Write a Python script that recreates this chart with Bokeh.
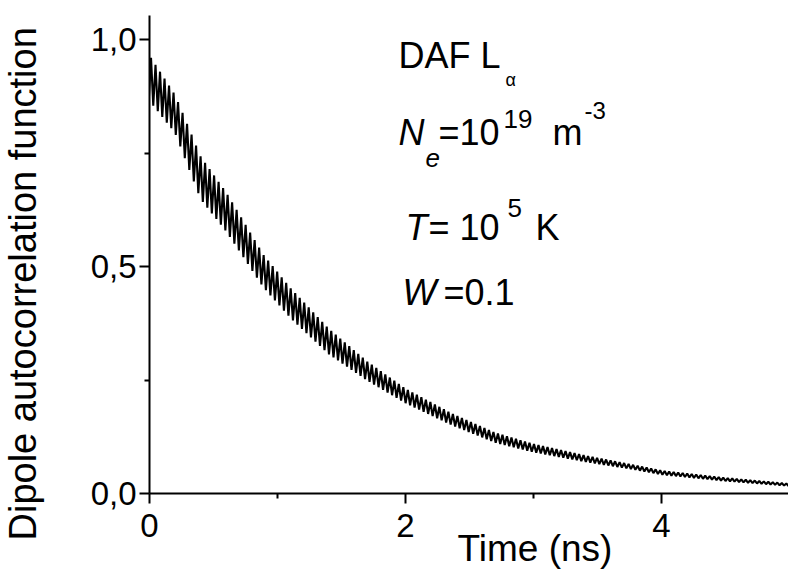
import numpy as np
from bokeh.plotting import figure
from bokeh.models import Range1d, FixedTicker, Label, Title
from bokeh.embed import file_html
from bokeh.resources import INLINE

# Envelope of the damped oscillating curve
t_env = [0.0, 0.2, 0.4, 0.6, 0.89, 1.1, 1.4, 1.7, 2.0, 2.35, 2.7, 3.0, 3.4, 3.8, 4.0, 4.5, 5.0]
mean_env = [0.915, 0.836, 0.695, 0.62, 0.49, 0.42, 0.335, 0.27, 0.215, 0.165, 0.123, 0.10,
            0.077, 0.057, 0.046, 0.031, 0.019]
half_amp = [0.05, 0.042, 0.047, 0.043, 0.036, 0.033, 0.028, 0.021, 0.016, 0.013, 0.011, 0.009,
            0.007, 0.005, 0.0045, 0.0035, 0.0025]
period = 0.0352      # ns, oscillation period
first_peak = 0.0118  # ns

x_ticks = [0, 2, 4]
x_minor = [1, 3]
y_ticks = [0.0, 0.5, 1.0]
y_minor = [0.25, 0.75]
y_tick_labels = ["0,0", "0,5", "1,0"]

# peaks and troughs of the oscillation
tt = np.arange(first_peak - period / 2, 5.0 + period, period / 2)
m = np.interp(tt, t_env, mean_env)
a = np.interp(tt, t_env, half_amp)
sign = np.where(np.arange(len(tt)) % 2 == 0, -1.0, 1.0)
yy = m + sign * a

FONT = "Liberation Sans"

p = figure(width=788, height=572, output_backend="svg", toolbar_location=None,
           x_range=Range1d(0, 4.992), y_range=Range1d(0, 1.053),
           min_border_left=149, min_border_right=0, min_border_top=15, min_border_bottom=79)
p.outline_line_color = None
p.grid.visible = False
p.background_fill_color = "white"
p.border_fill_color = "white"

p.line(tt, yy, line_color="black", line_width=2.1)

p.xaxis.ticker = FixedTicker(ticks=x_ticks, minor_ticks=x_minor)
p.yaxis.ticker = FixedTicker(ticks=y_ticks, minor_ticks=y_minor)
p.yaxis.major_label_overrides = {v: s for v, s in zip(y_ticks, y_tick_labels)}
for ax in (p.xaxis, p.yaxis):
    ax.axis_line_width = 2
    ax.axis_line_color = "black"
    ax.major_tick_line_width = 2
    ax.minor_tick_line_width = 2
    ax.major_tick_line_color = "black"
    ax.minor_tick_line_color = "black"
    ax.major_tick_in = 0
    ax.major_tick_out = 10
    ax.minor_tick_in = 0
    ax.minor_tick_out = 5
    ax.major_label_text_font = FONT
    ax.major_label_text_font_size = "33px"
    ax.major_label_text_color = "black"
p.xaxis.major_label_standoff = 10
p.yaxis.major_label_standoff = 3
# blank spacer label so that the y title sits further out
p.yaxis.axis_label = " "
p.yaxis.axis_label_text_font_size = "10px"
p.yaxis.axis_label_standoff = 28

# axis titles
p.add_layout(Title(text="Time (ns)", text_font=FONT, text_font_size="37px",
                   text_font_style="normal", text_color="black", align="left",
                   offset=308, vertical_align="top", standoff=-24), "below")
p.add_layout(Title(text="Dipole autocorrelation function", text_font=FONT,
                   text_font_size="38px", text_font_style="normal", text_color="black",
                   align="left", offset=-47, vertical_align="top", standoff=0), "left")

def lab(x, y, text, size="36px", style="normal"):
    p.add_layout(Label(x=x, y=y, text=text, text_font=FONT, text_font_size=size,
                       text_font_style=style, text_baseline="alphabetic", text_color="black"))

lab(1.945, 0.965, "DAF L")
lab(2.781, 0.910, "α", "18px")
lab(1.945, 0.795, "N", style="italic")
lab(2.156, 0.740, "e", "26px", "italic")
lab(2.258, 0.795, "=10")
lab(2.766, 0.826, "19", "26px")
lab(3.148, 0.795, "m")
lab(3.398, 0.844, "-3", "24px")
lab(2.0, 0.586, "T", style="italic")
lab(2.18, 0.586, "= 10")
lab(2.797, 0.630, "5", "26px")
lab(3.016, 0.586, "K")
lab(1.977, 0.443, "W", style="italic")
lab(2.297, 0.443, "=0.1")

open("out.html", "w").write(file_html(p, INLINE))
